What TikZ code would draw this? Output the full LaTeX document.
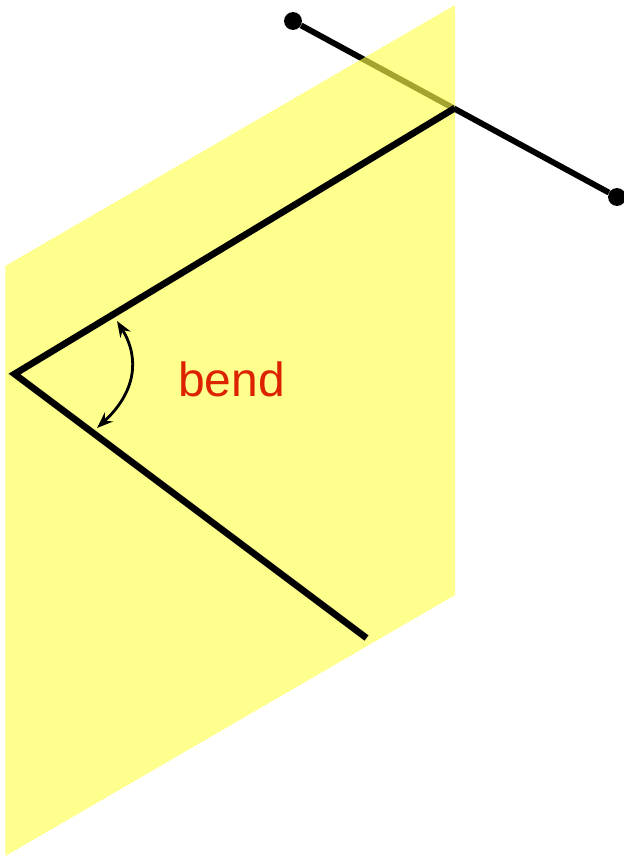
\documentclass[tikz,border=0pt]{standalone}
\usepackage{fontspec}
\setmainfont{Liberation Sans}
\usepackage{tikz}
\usetikzlibrary{arrows.meta,positioning}
\definecolor{planeYellow}{HTML}{FFFF4C}
\definecolor{bendRed}{HTML}{DD2200}

\begin{document}
\begin{tikzpicture}[
  x=0.75pt,y=-0.75pt,
  dot/.style={circle,fill=black,inner sep=0pt,minimum size=13.4pt},
  wire/.style={draw=black,line width=4.4pt},
  fold/.style={draw=black,line width=5pt,miter limit=10},
  plane/.style={fill=planeYellow,fill opacity=0.64},
  every node/.style={font=\fontsize{36pt}{40pt}\selectfont}
]
  \useasboundingbox (0,0) rectangle (624,858);
  \node[dot] (e1) at (293,21) {};
  \node[dot] (e2) at (617,197) {};
  \draw[wire] (e1)--(e2);
  \fill[plane] (5.3,266)--(455,5)--(455,595)--(5.3,856)--cycle;
  \coordinate (f1) at (455,108);
  \coordinate (f2) at (14.5,374);
  \coordinate (f3) at (366.5,638);
  \draw[fold] (f1)--(f2)--(f3);
  \coordinate (a1) at (117,321);
  \coordinate (a2) at (97,428);
  \draw[line width=2.1pt,{Stealth[length=12pt,width=9pt]}-{Stealth[length=12pt,width=9pt]}] (a1) .. controls (140,358) and (136,392) .. (a2);
  \node[text=bendRed,anchor=base west,inner sep=0pt] (lbl) at (178,396) {bend};
\end{tikzpicture}
\end{document}
